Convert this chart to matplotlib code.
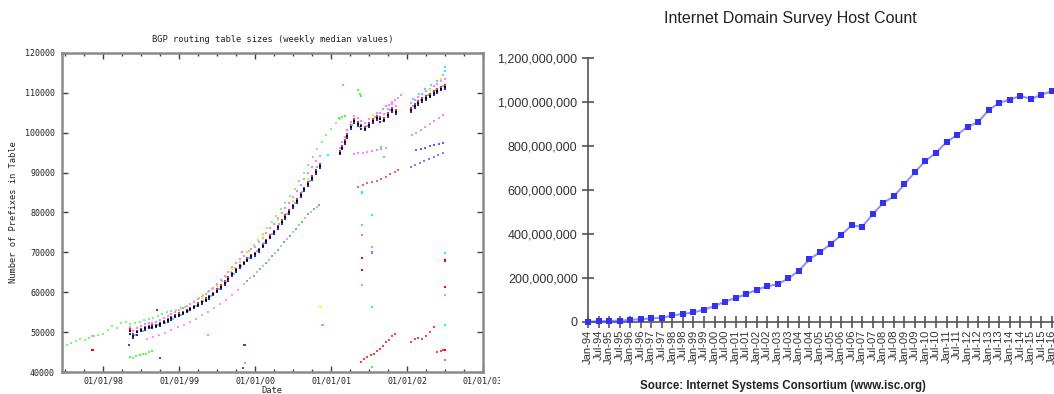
import numpy as np
import matplotlib
matplotlib.use('Agg')
import matplotlib.pyplot as plt
from matplotlib.patches import Rectangle

W, H = 1054, 394

# ---------------- left chart: BGP routing table (values in thousands) ----------------
t_main = [1998.35, 1998.40, 1998.45, 1998.50, 1998.55, 1998.60, 1998.65, 1998.70, 1998.75,
          1998.80, 1998.85, 1998.90, 1998.95,
          1999.00, 1999.05, 1999.10, 1999.15, 1999.20, 1999.25, 1999.30, 1999.35, 1999.40,
          1999.45, 1999.50, 1999.55, 1999.60, 1999.65, 1999.70, 1999.75, 1999.80, 1999.85,
          1999.90, 1999.95,
          2000.00, 2000.05, 2000.10, 2000.15, 2000.20, 2000.25, 2000.30, 2000.35, 2000.40,
          2000.45, 2000.50, 2000.55, 2000.60, 2000.65, 2000.70, 2000.75, 2000.80, 2000.85,
          2001.12, 2001.15, 2001.18, 2001.21, 2001.26, 2001.30, 2001.35, 2001.40, 2001.45,
          2001.50, 2001.55, 2001.60, 2001.65, 2001.70, 2001.75, 2001.80, 2001.85,
          2002.05, 2002.10, 2002.15, 2002.20, 2002.25, 2002.30, 2002.35, 2002.40, 2002.45,
          2002.50]
black_k = [50.3, 49.0, 50.0, 50.5, 51.0, 51.3, 51.4, 51.5, 52.0, 52.5, 53.0, 53.5, 54.0,
           54.3, 54.8, 55.3, 55.8, 56.3, 56.9, 57.5, 58.1, 58.8, 59.6, 60.4, 61.3, 62.3, 63.4,
           64.5, 65.5, 66.5, 67.4, 68.2, 69.0,
           69.5, 70.6, 71.7, 72.8, 73.9, 75.1, 76.3, 77.6, 78.9, 80.2, 81.6, 83.0, 84.4, 85.8,
           87.2, 88.7, 90.2, 91.7,
           95.0, 96.3, 97.8, 99.3, 101.5, 103.0, 102.3, 101.6, 101.0, 102.0, 103.0, 103.6,
           103.4, 103.2, 104.5, 105.7, 105.2,
           105.7, 106.8, 107.5, 108.2, 108.8, 109.3, 109.9, 110.5, 111.0, 111.5]
blue_k = [49.5, 48.5, 49.3, 50.2, 50.6, 51.0, 51.0, 51.2, 51.6, 52.2, 52.6, 53.1, 53.7,
          54.0, 54.5, 55.0, 55.5, 56.0, 56.6, 57.1, 57.8, 58.4, 59.2, 60.0, 60.9, 61.9, 62.9,
          64.0, 65.1, 66.1, 67.0, 67.9, 68.6,
          69.0, 70.2, 71.3, 72.3, 73.5, 74.6, 75.8, 77.1, 78.4, 79.7, 81.1, 82.5, 83.9, 85.3,
          86.7, 88.2, 89.7, 91.2,
          94.6, 95.9, 97.3, 98.8, 101.0, 102.4, 101.6, 100.9, 100.6, 101.4, 102.5, 103.1,
          102.8, 102.9, 104.0, 105.2, 104.8,
          105.3, 106.2, 107.0, 107.7, 108.3, 108.9, 109.5, 110.0, 110.6, 111.0]
pink_k = [51.2, 50.3, 51.0, 51.5, 52.0, 52.2, 52.3, 52.6, 53.0, 53.6, 54.0, 54.6, 55.1,
          55.5, 56.0, 56.6, 57.1, 57.6, 58.3, 58.9, 59.6, 60.3, 61.1, 62.0, 63.0, 64.0, 65.1,
          66.3, 67.3, 68.3, 69.2, 70.1, 70.9,
          71.3, 72.5, 73.6, 74.8, 76.0, 77.2, 78.5, 79.8, 81.2, 82.5, 84.0, 85.4, 86.9, 88.3,
          89.8, 91.3, 92.8, 94.2,
          96.2, 97.6, 99.0, 100.6, 102.8, 104.3, 103.8, 103.0, 102.5, 103.5, 104.4, 105.0,
          104.9, 104.7, 106.0, 107.1, 106.6,
          107.4, 108.3, 109.0, 109.8, 110.4, 111.0, 111.7, 112.3, 112.9, 113.4]
red_k = [50.8, 49.6, 50.4, 50.9, 51.4, 51.5, 51.7, 51.9, 52.3, 52.8, 53.3, 53.9, 54.3,
         54.7, 55.1, 55.6, 56.1, 56.6, 57.3, 57.8, 58.5, 59.1, 59.9, 60.7, 61.7, 62.7, 63.8,
         64.8, 65.8, 66.8, 67.7, 68.6, 69.4,
         69.8, 70.9, 72.0, 73.1, 74.3, 75.4, 76.7, 78.0, 79.3, 80.6, 82.0, 83.4, 84.8, 86.2,
         87.6, 89.1, 90.6, 92.1,
         95.3, 96.7, 98.2, 99.8, 102.0, 103.5, 102.8, 102.0, 101.5, 102.5, 103.5, 104.1,
         103.9, 103.8, 105.0, 106.2, 105.7,
         106.1, 107.2, 108.0, 108.6, 109.2, 109.8, 110.4, 111.0, 111.5, 112.0]

t_cyan = [1998.42, 1998.52, 1998.62, 1998.72, 1998.82, 1998.92, 1999.02, 1999.12, 1999.22,
          1999.32, 1999.42, 1999.52, 1999.62, 1999.72, 1999.82, 1999.92, 2000.02, 2000.12,
          2000.22, 2000.32, 2000.42, 2000.52, 2000.62, 2000.72, 2000.82, 2001.28, 2001.38,
          2001.48, 2001.58, 2001.68, 2001.78, 2002.08, 2002.18, 2002.28, 2002.38, 2002.48]
cyan_k = [49.2, 50.4, 51.0, 51.8, 52.4, 53.4, 54.4, 55.3, 56.5, 57.9, 59.0, 60.9, 62.6, 64.6,
          66.6, 68.5, 70.3, 72.4, 74.7, 77.1, 79.6, 82.3, 85.2, 88.0, 91.3, 102.0, 101.5,
          101.8, 103.9, 103.0, 105.6, 106.8, 108.3, 109.4, 110.6, 111.8]
t_yellow = [1999.30, 1999.50, 1999.70, 1999.90, 2000.10, 2000.30, 2000.50, 2000.70,
            2001.55, 2002.30, 2002.45]
yellow_k = [58.6, 61.5, 65.8, 70.0, 73.8, 78.0, 83.0, 88.5, 104.5, 110.8, 113.5]

t_green = [1997.46, 1997.52, 1997.58, 1997.64, 1997.70, 1997.76, 1997.82, 1997.88, 1997.94,
           1998.00, 1998.06, 1998.12, 1998.18, 1998.24, 1998.30, 1998.36, 1998.42, 1998.48,
           1998.54, 1998.60, 1998.66, 1998.72, 1998.78, 1998.84, 1998.90, 1998.96, 1999.02,
           1999.08, 1999.14, 1999.20, 1999.26, 1999.32, 1999.38, 1999.44, 1999.50, 1999.56,
           1999.62, 1999.68, 1999.74, 1999.80, 1999.86, 1999.92, 1999.98, 2000.04, 2000.10,
           2000.16, 2000.22, 2000.28, 2000.34, 2000.40, 2000.46, 2000.52, 2000.58, 2000.64,
           2000.70, 2000.76, 2000.82, 2000.88, 2000.94, 2001.00, 2001.06, 2001.12]
green_k = [46.2, 46.7, 47.2, 47.8, 48.3, 48.0, 48.6, 49.0, 49.2, 49.5, 50.5, 51.5, 51.0,
           52.2, 52.5, 52.0, 52.3, 52.6, 53.0, 53.3, 53.6, 54.0, 54.6, 55.0, 55.3, 55.6, 56.0,
           56.4, 57.0, 57.8, 58.6, 59.4, 60.0, 60.8, 61.8, 62.8, 63.8, 65.0, 66.2, 67.6, 69.0,
           70.4, 71.8, 73.0, 74.5, 76.0, 77.6, 79.2, 80.8, 82.5, 84.2, 86.0, 87.8, 89.8, 91.8,
           93.8, 95.8, 97.8, 99.5, 101.0, 102.5, 103.5]

t_low = [1998.58, 1998.66, 1998.74, 1998.82, 1998.90, 1998.98, 1999.06, 1999.14, 1999.22,
         1999.30, 1999.38, 1999.46, 1999.54, 1999.62, 1999.70, 1999.78, 1999.86, 1999.94,
         2000.02, 2000.10, 2000.18, 2000.26, 2000.34, 2000.42, 2000.50, 2000.58, 2000.66,
         2000.74, 2000.82]
low_k = [48.3, 48.8, 49.3, 49.9, 50.5, 51.2, 51.9, 52.6, 53.4, 54.2, 55.1, 56.0, 57.0, 58.1,
         59.3, 60.6, 62.0, 63.5, 65.0, 66.6, 68.2, 69.9, 71.6, 73.3, 75.0, 76.8, 78.6, 80.2,
         81.5]
t_low_red = [1999.90, 1999.98, 2000.06, 2000.14, 2000.22, 2000.30, 2000.38, 2000.46, 2000.54,
             2000.62, 2000.70, 2000.78, 2000.84]
low_red_k = [62.9, 64.2, 65.9, 67.3, 69.1, 70.6, 72.6, 74.1, 75.9, 77.6, 79.5, 80.9, 81.8]

t_green_low = [1998.36, 1998.40, 1998.44, 1998.48, 1998.52, 1998.56, 1998.60, 1998.64]
green_low_k = [43.8, 43.6, 44.0, 44.3, 44.5, 44.6, 45.0, 45.2]

t_pink_up01 = [2001.68, 2001.72, 2001.76, 2001.80, 2001.84, 2001.88, 2001.92]
pink_up01_k = [106.0, 106.6, 107.0, 107.7, 108.3, 108.8, 109.5]
t_pink_mid01 = [2001.30, 2001.36, 2001.42, 2001.48, 2001.54, 2001.60, 2001.66, 2001.72]
pink_mid01_k = [94.6, 94.8, 95.0, 95.2, 95.5, 95.7, 96.0, 96.2]
t_red_mid01 = [2001.36, 2001.42, 2001.48, 2001.54, 2001.60, 2001.66, 2001.72, 2001.78,
               2001.84, 2001.88]
red_mid01_k = [86.4, 87.0, 87.5, 87.7, 88.0, 88.5, 89.0, 89.6, 90.2, 90.6]
t_pink02 = [2002.06, 2002.12, 2002.18, 2002.24, 2002.30, 2002.36, 2002.42, 2002.48]
pink02_k = [99.4, 100.0, 100.8, 101.5, 102.3, 103.0, 103.8, 104.5]
t_blue02a = [2002.12, 2002.18, 2002.24, 2002.30, 2002.36, 2002.42, 2002.48]
blue02a_k = [95.7, 96.0, 96.3, 96.6, 96.9, 97.2, 97.4]
t_blue02b = [2002.05, 2002.11, 2002.17, 2002.23, 2002.29, 2002.35, 2002.41, 2002.47]
blue02b_k = [91.4, 91.9, 92.4, 92.9, 93.4, 93.9, 94.4, 94.9]
t_red_low = [2001.40, 2001.44, 2001.48, 2001.52, 2001.56, 2001.60, 2001.64, 2001.68,
             2001.72, 2001.76, 2001.80, 2001.84, 2002.05, 2002.10, 2002.15, 2002.20,
             2002.25, 2002.30, 2002.35, 2002.40, 2002.45, 2002.48]
red_low_k = [42.5, 43.3, 43.8, 44.2, 44.6, 45.2, 45.8, 46.5, 47.4, 48.0, 49.0, 49.6,
             47.5, 48.2, 48.6, 48.4, 49.0, 50.0, 51.3, 45.0, 45.3, 45.6]
t_cyan02 = [2002.08, 2002.16, 2002.24, 2002.32, 2002.40, 2002.48, 2002.50, 2002.50]
cyan02_k = [108.5, 109.8, 110.9, 112.0, 113.0, 114.5, 116.5, 115.5]
t_green01 = [2001.10, 2001.14, 2001.18, 2001.36, 2001.38, 2001.40, 2001.66, 2001.70]
green01_k = [103.7, 103.9, 104.2, 110.7, 109.8, 109.2, 96.5, 94.0]

# single stray points (date, thousands, colour)
t_out = [1997.86, 1997.86, 1998.71, 1998.75, 1999.38, 1998.34, 1999.83, 1999.86, 1999.84,
         1999.87, 2000.86, 2000.89, 2000.96, 2001.16,
         2001.41, 2001.41, 2001.41, 2001.41, 2001.41, 2001.41,
         2001.54, 2001.54, 2001.54, 2001.54, 2001.54,
         2002.50, 2002.50, 2002.50, 2002.50, 2002.50, 2002.50, 2002.50]
out_k = [49.0, 45.5, 55.5, 43.5, 49.3, 46.8, 70.1, 46.8, 41.0, 42.3, 56.3, 51.8, 94.4, 112.0,
         85.0, 76.9, 74.4, 68.6, 65.6, 61.8,
         79.4, 71.3, 69.9, 56.3, 41.3,
         69.8, 68.0, 61.3, 59.3, 51.8, 45.5, 43.0]
out_c = ['#ff80ff', '#ff0000', '#ff0000', '#4040ff', '#40ff40', '#4040ff', '#ff80ff',
         '#4040ff', '#4040ff', '#ff80ff', '#ffff00', '#ff80ff', '#00ffff', '#ff80ff',
         '#00ffff', '#40ff40', '#ff8080', '#ff0000', '#ff0000', '#ff80ff',
         '#00ffff', '#40ff40', '#8080ff', '#00ffff', '#40ff40',
         '#00ffff', '#ff0000', '#ff0000', '#ff80ff', '#00ffff', '#ff0000', '#8080ff']

# ---------------- right chart: ISC host count ----------------
host_labels = []
for yr in range(94, 117):
    host_labels.append('Jan-%02d' % (yr % 100))
    host_labels.append('Jul-%02d' % (yr % 100))
host_labels = host_labels[:45]
hosts_m = [2.2, 3.2, 4.9, 6.6, 9.5, 12.9, 16.1, 19.5, 29.7, 36.7, 43.2, 56.2, 72.4, 93.0,
           109.6, 125.9, 147.3, 162.1, 171.6, 198.2, 233.1, 285.1, 317.6, 353.3, 395.0,
           439.3, 433.2, 489.8, 541.7, 570.9, 625.2, 681.1, 732.7, 768.9, 818.4, 849.9,
           888.2, 908.6, 963.5, 996.2, 1010.3, 1028.5, 1012.7, 1033.8, 1048.8]

fig = plt.figure(figsize=(W / 100, H / 100), dpi=100)

# ---- left
ax = fig.add_axes([62 / W, (H - 372) / H, 421 / W, 319 / H])
mono = 'DejaVu Sans Mono'
ms = 1.9


def dots(t, v, c):
    ax.plot(t, np.array(v) * 1000, 's', color=c, ms=ms, mew=0)


dots(t_green, green_k, '#70ff70')
dots(t_low, low_k, '#ff90ff')
dots(t_low_red, low_red_k, '#40e040')
dots(t_green_low, green_low_k, '#50ff50')
dots(t_main, pink_k, '#ff80ff')
dots(t_yellow, yellow_k, '#f0f000')
dots(t_main, red_k, '#ff2020')
dots(t_cyan, cyan_k, '#30e0ff')
dots(t_main, blue_k, '#2020ff')
dots(t_main, black_k, '#000000')
dots(t_pink_up01, pink_up01_k, '#ff80ff')
dots(t_pink_mid01, pink_mid01_k, '#ff80ff')
dots(t_red_mid01, red_mid01_k, '#ff6060')
dots(t_pink02, pink02_k, '#ff80ff')
dots(t_blue02a, blue02a_k, '#6060ff')
dots(t_blue02b, blue02b_k, '#8080ff')
dots(t_red_low, red_low_k, '#ff4040')
dots(t_cyan02, cyan02_k, '#40e0ff')
dots(t_green01, green01_k, '#40ff40')
ax.scatter(t_out, np.array(out_k) * 1000, c=out_c, marker='s', s=3.5, linewidths=0)

ax.set_xlim(1997.46, 2003.0)
ax.set_ylim(40000, 120000)
ax.set_xticks([1998, 1999, 2000, 2001, 2002, 2003])
ax.set_xticklabels(['01/01/98', '01/01/99', '01/01/00', '01/01/01', '01/01/02', '01/01/03'])
ax.set_xticks([1997.5, 1997.75, 1998.25, 1998.5, 1998.75, 1999.25, 1999.5, 1999.75,
               2000.25, 2000.5, 2000.75, 2001.25, 2001.5, 2001.75, 2002.25, 2002.5,
               2002.75], minor=True)
ax.set_yticks(range(40000, 120001, 10000))
ax.tick_params(which='both', direction='in', top=True, right=True, color='#404040',
               labelsize=6, labelcolor='#222222', width=1)
ax.tick_params(which='major', length=4)
ax.tick_params(axis='y', which='major', pad=5)
ax.tick_params(axis='x', which='major', pad=3)
ax.tick_params(which='minor', length=2.5)
for lab in ax.get_xticklabels() + ax.get_yticklabels():
    lab.set_family(mono)
for s in ax.spines.values():
    s.set_color('#8a8a8a')
    s.set_linewidth(1.8)
ax.set_title('BGP routing table sizes (weekly median values)', fontsize=6.3,
             family=mono, color='#222222', pad=8)
fig.text(14 / W, 1 - 212 / H, 'Number of Prefixes in Table', rotation=90, fontsize=6.3,
         family=mono, color='#222222', ha='center', va='center')
fig.text(272 / W, 1 - 386 / H, 'Date', fontsize=6.3, family=mono, color='#222222',
         ha='center', va='top')
fig.add_artist(Rectangle((500 / W, 0), 20 / W, 22 / H, transform=fig.transFigure,
                         facecolor='white', edgecolor='none', zorder=5))

# ---- right
ax2 = fig.add_axes([588 / W, (H - 322) / H, 466 / W, 264 / H])
x = np.arange(len(hosts_m))
ax2.plot(x, np.array(hosts_m) * 1e6, '-', color='#8c8cff', lw=1.4, zorder=2, clip_on=False)
ax2.plot(x, np.array(hosts_m) * 1e6, 's', color='#3030ff', ms=4.8, mew=0, zorder=3,
         clip_on=False)
ax2.set_xlim(0, 44.19)
ax2.set_ylim(0, 1.2e9)
ax2.set_yticks([0, 2e8, 4e8, 6e8, 8e8, 1e9, 1.2e9])
ax2.set_yticklabels(['0', '200,000,000', '400,000,000', '600,000,000', '800,000,000',
                     '1,000,000,000', '1,200,000,000'])
ax2.set_xticks(x)
ax2.set_xticklabels(host_labels, rotation=90)
for s in ['top', 'right']:
    ax2.spines[s].set_visible(False)
for s in ['left', 'bottom']:
    ax2.spines[s].set_color('#555555')
    ax2.spines[s].set_linewidth(1.2)
ax2.tick_params(axis='y', direction='inout', length=9, width=1.2, color='#555555',
                labelsize=9, labelcolor='#333333', pad=3)
ax2.tick_params(axis='x', direction='inout', length=9, width=1.2, color='#555555',
                labelsize=8, labelcolor='#333333', pad=1)
for lab in ax2.get_xticklabels() + ax2.get_yticklabels():
    lab.set_family('Liberation Sans')
fig.text(790 / W, 1 - 18 / H, 'Internet Domain Survey Host Count', fontsize=11.5,
         family='Liberation Sans', color='#222222', ha='center', va='center')
fig.text(783 / W, 1 - 386 / H, 'Source: Internet Systems Consortium (www.isc.org)',
         fontsize=8.3, family='Liberation Sans', weight='bold', color='#222222',
         ha='center', va='center')

fig.savefig('out.png', dpi=100, facecolor='white')
